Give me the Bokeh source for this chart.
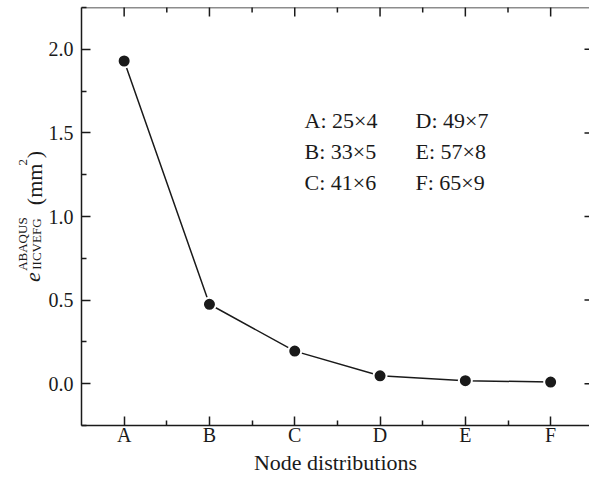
import math
from bokeh.plotting import figure
from bokeh.models import (Range1d, FixedTicker, PrintfTickFormatter, LinearAxis, Label,
                          ColumnDataSource, Span)
from bokeh.embed import file_html
from bokeh.resources import INLINE

# ---- data ----
categories = ["A", "B", "C", "D", "E", "F"]
grids = ["25×4", "33×5", "41×6", "49×7", "57×8", "65×9"]
error_values = [1.93, 0.475, 0.195, 0.047, 0.018, 0.010]
y_ticks = [0.0, 0.5, 1.0, 1.5, 2.0]
y_minor = [-0.25, 0.25, 0.75, 1.25, 1.75, 2.25]

FONT = "Liberation Serif"
INK = "#1a1a1a"
NB = "\u00a0"

W, H = 589, 485
FL, FT, FB = 81, 7, 425
FW, FH = W - FL, FB - FT
X0, X1 = 0.5, 0.5 + FW / 85.3
Y0, Y1 = -0.25, 2.25

p = figure(width=W, height=H, output_backend="svg", toolbar_location=None,
           x_range=Range1d(X0, X1), y_range=Range1d(Y0, Y1),
           min_border_left=FL, min_border_bottom=H - FB, min_border_top=FT,
           min_border_right=0, x_axis_location=None, y_axis_location=None)
p.outline_line_color = None
p.xgrid.visible = False
p.ygrid.visible = False

xs = list(range(1, len(categories) + 1))
src = ColumnDataSource(dict(x=xs, y=error_values))

def dx(px):
    return X0 + (px - FL) * (X1 - X0) / FW

def dy(py):
    return Y1 - (py - FT) * (Y1 - Y0) / FH

def style_axis(ax):
    ax.axis_line_color = INK
    ax.axis_line_width = 1.5
    ax.major_tick_line_color = INK
    ax.major_tick_line_width = 1.5
    ax.minor_tick_line_color = INK
    ax.minor_tick_line_width = 1.5
    ax.major_tick_in = 9
    ax.major_tick_out = 0
    ax.minor_tick_in = 5
    ax.minor_tick_out = 0
    ax.major_label_text_font = FONT
    ax.major_label_text_color = INK
    ax.axis_label_text_font = FONT
    ax.axis_label_text_font_style = "normal"
    ax.axis_label_text_color = INK

xminor = [x + 0.5 for x in xs]
xticker = FixedTicker(ticks=xs, minor_ticks=xminor)
yticker = FixedTicker(ticks=y_ticks, minor_ticks=y_minor)
xlabels = {x: c for x, c in zip(xs, categories)}

bottom = LinearAxis(ticker=xticker, major_label_overrides=xlabels,
                    axis_label="Node distributions")
style_axis(bottom)
bottom.major_label_text_font_size = "20px"
bottom.major_label_standoff = -2
bottom.axis_label_text_font_size = "22px"
bottom.axis_label_standoff = 1
p.add_layout(bottom, "below")

left = LinearAxis(ticker=yticker, formatter=PrintfTickFormatter(format="%.1f"))
style_axis(left)
left.major_label_text_font_size = "20px"
left.major_label_standoff = 8
p.add_layout(left, "left")

# y title e^{ABAQUS}_{IICVEFG} (mm^2): label-only axes stacked on the left; the
# standoffs place each piece horizontally, no-break spaces shift it along the axis
def title_piece(text, standoff, size, style="normal"):
    ax = LinearAxis(ticker=FixedTicker(ticks=[], minor_ticks=[]), axis_label=text)
    ax.axis_line_color = None
    ax.major_tick_line_color = None
    ax.minor_tick_line_color = None
    ax.major_tick_out = 0
    ax.major_tick_in = 0
    ax.minor_tick_out = 0
    ax.minor_tick_in = 0
    ax.major_label_standoff = 0
    ax.major_label_text_color = None
    ax.axis_label_standoff = standoff
    ax.axis_label_text_font = FONT
    ax.axis_label_text_font_size = size
    ax.axis_label_text_font_style = style
    ax.axis_label_text_color = INK
    p.add_layout(ax, "left")

title_piece("e" + NB * 22, 1, "22px", "italic")
title_piece(NB * 14 + "(mm" + NB + ")", -30, "22px")
title_piece(NB + "ABAQUS" + NB * 16 + "2", -13, "13px")
title_piece("IICVEFG" + NB * 17, -32, "13px")

# top frame line and inward ticks on the top and right edges
p.add_layout(Span(location=Y1, dimension="width", line_color=INK, line_width=1.5))
p.scatter(xs, [Y1] * len(xs), marker="dash", size=18, angle=math.pi / 2,
          line_color=INK, line_width=1.5)
p.scatter(xminor, [Y1] * len(xminor), marker="dash", size=10, angle=math.pi / 2,
          line_color=INK, line_width=1.5)
p.scatter([X1] * len(y_ticks), y_ticks, marker="dash", size=10,
          line_color=INK, line_width=1.5)

# data line and markers
p.line("x", "y", source=src, line_color=INK, line_width=1.5)
p.scatter("x", "y", source=src, size=13, fill_color=INK, line_color="white",
          line_width=2)

# text block listing node distributions
for i, (c, g) in enumerate(zip(categories, grids)):
    col, r = divmod(i, 3)
    p.add_layout(Label(x=dx(304 + col * 111), y=dy(120 + r * 31), text=f"{c}: {g}",
                       text_font=FONT, text_font_size="22px", text_color=INK,
                       text_align="left", text_baseline="alphabetic"))

open("out.html", "w").write(file_html(p, INLINE))
